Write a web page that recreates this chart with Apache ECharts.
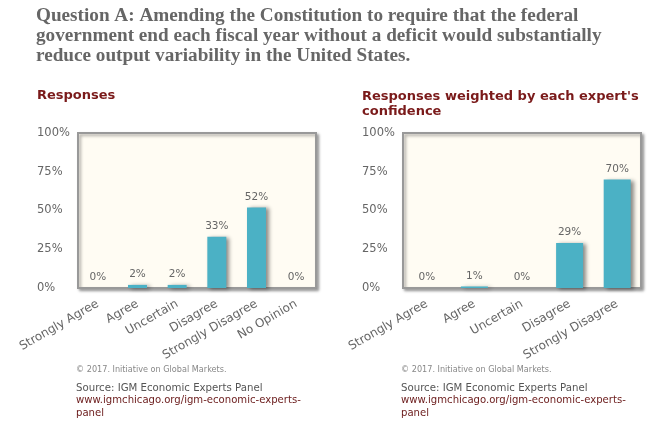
<!DOCTYPE html>
<html><head><meta charset="utf-8">
<script src="https://cdn.jsdelivr.net/npm/echarts@6/dist/echarts.min.js"></script>
<style>html,body{margin:0;padding:0;background:#fff}#c{width:657px;height:435px}</style>
</head><body><div id="c"></div>
<script>
const categoriesA = ['Strongly Agree','Agree','Uncertain','Disagree','Strongly Disagree','No Opinion'];
const valuesA = [0, 2, 2, 33, 52, 0];
const categoriesB = ['Strongly Agree','Agree','Uncertain','Disagree','Strongly Disagree'];
const valuesB = [0, 1, 0, 29, 70];
const yTicks = [0, 25, 50, 75, 100];

const titleLines = ['Question A: Amending the Constitution to require that the federal',
  'government end each fiscal year without a deficit would substantially',
  'reduce output variability in the United States.'];

const chart = echarts.init(document.getElementById('c'));
const barColor = '#4bb1c5';
const font = 'DejaVu Sans';
function grid(left){
  return {left:left, top:133, width:238, height:155, show:true, backgroundColor:'#fffcf3',
    borderColor:'#999', borderWidth:2, shadowColor:'rgba(0,0,0,0.35)', shadowBlur:3, shadowOffsetX:2, shadowOffsetY:2};
}
function xAxis(idx, cats){
  return {gridIndex:idx, type:'category', data:cats, axisLine:{show:false}, axisTick:{show:false},
    axisLabel:{interval:0, rotate:30, color:'#666', fontFamily:font, fontSize:12, margin:15}};
}
function yAxis(idx){
  return {gridIndex:idx, type:'value', min:0, max:100, interval:25, splitLine:{show:false},
    axisLine:{show:false}, axisTick:{show:false},
    axisLabel:{formatter:'{value}%', color:'#666', fontFamily:font, fontSize:11.5, align:'left', margin:41,
      customValues: yTicks}};
}
function series(idx, vals, bw){
  return {type:'bar', xAxisIndex:idx, yAxisIndex:idx, data:vals, barWidth:bw,
    itemStyle:{color:barColor, shadowColor:'rgba(0,0,0,0.45)', shadowBlur:4, shadowOffsetX:3, shadowOffsetY:1},
    label:{show:true, position:'top', formatter:'{c}%', color:'#666', fontFamily:font, fontSize:10.5, distance:5}};
}
const gtext = [];
titleLines.forEach((t,i)=>gtext.push({type:'text', left:36, top:7+i*20,
  style:{text:t, fill:'#666', font:'bold 19.2px "Liberation Serif"'}}));
gtext.push({type:'text', left:37, top:89, style:{text:'Responses', fill:'#7a1a1a', font:'bold 13px "DejaVu Sans"'}});
gtext.push({type:'text', left:362, top:89, style:{text:"Responses weighted by each expert's\nconfidence", fill:'#7a1a1a', font:'bold 13px "DejaVu Sans"', lineHeight:15}});
[76,401].forEach(x=>{
  gtext.push({type:'text', left:x, top:366, style:{text:'© 2017. Initiative on Global Markets.', fill:'#888', font:'8.15px "DejaVu Sans"'}});
  gtext.push({type:'text', left:x, top:383, style:{text:'Source: IGM Economic Experts Panel', fill:'#555', font:'10.2px "DejaVu Sans"'}});
  gtext.push({type:'text', left:x, top:394, style:{text:'www.igmchicago.org/igm-economic-experts-\npanel', fill:'#6a1a1a', font:'10.1px "DejaVu Sans"', lineHeight:13}});
});
chart.setOption({
  animation:false,
  grid:[grid(78), grid(403)],
  xAxis:[xAxis(0,categoriesA), xAxis(1,categoriesB)],
  yAxis:[yAxis(0), yAxis(1)],
  series:[series(0,valuesA,19), series(1,valuesB,27)],
  graphic:gtext
});
</script></body></html>
